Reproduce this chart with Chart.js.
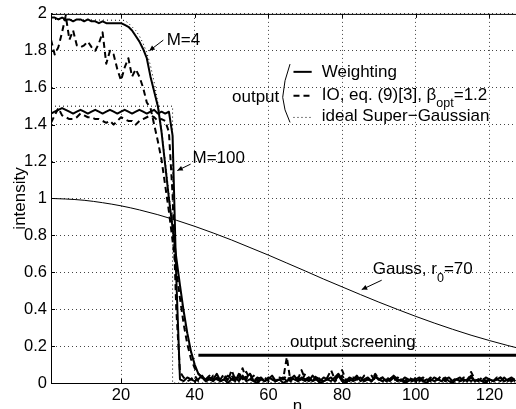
<!DOCTYPE html>
<html>
<head>
<meta charset="utf-8">
<script src="https://cdn.jsdelivr.net/npm/chart.js@4.4.0/dist/chart.umd.min.js"></script>
<style>
  html, body { margin: 0; padding: 0; background: #fff; overflow: hidden; }
  #wrap { width: 516px; height: 409px; position: relative; }
</style>
</head>
<body>
<div id="wrap"><canvas id="chart"></canvas></div>
<script>
// axis ticks
const xTicks = [20, 40, 60, 80, 100, 120];
const yTicks = [0, 0.2, 0.4, 0.6, 0.8, 1, 1.2, 1.4, 1.6, 1.8, 2];
const yTickLabels = ['0', '0.2', '0.4', '0.6', '0.8', '1', '1.2', '1.4', '1.6', '1.8', '2'];

// sample index n = 1..127
const n = Array.from({ length: 127 }, (_, i) => i + 1);

// M=4, weighting (solid)
const weight4 = [
  1.98, 1.98, 1.97, 1.98, 1.97, 1.97, 1.96, 1.97, 1.97, 1.96,
  1.97, 1.96, 1.96, 1.95, 1.96, 1.95, 1.95, 1.95, 1.95, 1.95,
  1.94, 1.93, 1.91, 1.88, 1.85, 1.81, 1.76, 1.66, 1.58, 1.50,
  1.36, 1.18, 1.00, 0.84, 0.68, 0.53, 0.39, 0.27, 0.17, 0.10,
  0.05, 0.03, 0.01, 0.02, 0.01, 0.03, 0.01, 0.02, 0.00, 0.02,
  0.03, 0.01, 0.04, 0.01, 0.02, 0.01, 0.00, 0.02, 0.01, 0.03,
  0.02, 0.01, 0.02, 0.00, 0.01, 0.03, 0.02, 0.01, 0.02, 0.01,
  0.03, 0.01, 0.02, 0.00, 0.01, 0.02, 0.03, 0.01, 0.04, 0.01,
  0.00, 0.02, 0.01, 0.02, 0.03, 0.01, 0.02, 0.01, 0.03, 0.02,
  0.01, 0.02, 0.01, 0.03, 0.01, 0.02, 0.00, 0.01, 0.02, 0.01,
  0.02, 0.01, 0.00, 0.02, 0.01, 0.02, 0.01, 0.03, 0.01, 0.00,
  0.02, 0.01, 0.02, 0.01, 0.03, 0.01, 0.02, 0.01, 0.00, 0.02,
  0.01, 0.02, 0.01, 0.03, 0.01, 0.02, 0.01
];

// M=4, IO eq.(9)[3] (dashed)
const io4 = [
  1.86, 1.78, 1.82, 1.90, 1.99, 1.86, 1.91, 1.83, 1.82, 1.83,
  1.85, 1.82, 1.80, 1.84, 1.90, 1.73, 1.80, 1.78, 1.70, 1.64,
  1.71, 1.76, 1.66, 1.70, 1.66, 1.60, 1.52, 1.49, 1.40, 1.31,
  1.21, 1.07, 0.93, 0.77, 0.61, 0.46, 0.32, 0.21, 0.13, 0.08,
  0.05, 0.03, 0.02, 0.04, 0.01, 0.03, 0.02, 0.05, 0.01, 0.07,
  0.02, 0.03, 0.08, 0.02, 0.05, 0.01, 0.03, 0.02, 0.01, 0.03,
  0.02, 0.01, 0.03, 0.02, 0.14, 0.01, 0.03, 0.02, 0.07, 0.02,
  0.03, 0.01, 0.04, 0.02, 0.01, 0.03, 0.07, 0.02, 0.04, 0.07,
  0.02, 0.01, 0.03, 0.02, 0.01, 0.04, 0.02, 0.01, 0.05, 0.02,
  0.01, 0.03, 0.02, 0.04, 0.01, 0.02, 0.01, 0.03, 0.02, 0.01,
  0.02, 0.03, 0.01, 0.02, 0.01, 0.02, 0.04, 0.01, 0.02, 0.01,
  0.03, 0.01, 0.02, 0.01, 0.06, 0.02, 0.01, 0.03, 0.01, 0.02,
  0.01, 0.02, 0.03, 0.01, 0.02, 0.01, 0.02
];

// M=100, weighting (solid)
const weight100 = [
  1.46, 1.47, 1.48, 1.49, 1.48, 1.47, 1.46, 1.47, 1.48, 1.47,
  1.46, 1.47, 1.48, 1.47, 1.46, 1.47, 1.48, 1.47, 1.46, 1.47,
  1.48, 1.47, 1.46, 1.47, 1.48, 1.47, 1.46, 1.47, 1.48, 1.46,
  1.47, 1.46, 1.47, 1.34, 0.57, 0.02, 0.01, 0.03, 0.02, 0.01,
  0.02, 0.04, 0.01, 0.03, 0.02, 0.05, 0.01, 0.02, 0.04, 0.02,
  0.01, 0.05, 0.02, 0.03, 0.05, 0.01, 0.02, 0.03, 0.01, 0.02,
  0.04, 0.01, 0.02, 0.03, 0.01, 0.02, 0.04, 0.01, 0.03, 0.02,
  0.01, 0.04, 0.02, 0.01, 0.03, 0.02, 0.01, 0.03, 0.05, 0.02,
  0.01, 0.03, 0.02, 0.04, 0.01, 0.02, 0.03, 0.01, 0.04, 0.02,
  0.03, 0.01, 0.02, 0.04, 0.02, 0.01, 0.03, 0.02, 0.01, 0.02,
  0.03, 0.01, 0.02, 0.01, 0.03, 0.02, 0.01, 0.02, 0.03, 0.01,
  0.02, 0.03, 0.01, 0.02, 0.04, 0.01, 0.02, 0.01, 0.03, 0.02,
  0.01, 0.02, 0.03, 0.01, 0.02, 0.03, 0.01
];

// M=100, IO eq.(9)[3] (dashed)
const io100 = [
  1.41, 1.45, 1.49, 1.45, 1.44, 1.43, 1.43, 1.44, 1.46, 1.45,
  1.44, 1.44, 1.43, 1.43, 1.42, 1.41, 1.42, 1.40, 1.42, 1.44,
  1.43, 1.42, 1.42, 1.40, 1.42, 1.43, 1.44, 1.45, 1.44, 1.42,
  1.43, 1.42, 1.36, 1.02, 0.40, 0.06, 0.03, 0.01, 0.02, 0.04,
  0.01, 0.03, 0.02, 0.01, 0.04, 0.02, 0.01, 0.03, 0.02, 0.04,
  0.01, 0.02, 0.03, 0.06, 0.02, 0.04, 0.01, 0.02, 0.03, 0.01,
  0.02, 0.01, 0.03, 0.02, 0.04, 0.01, 0.02, 0.03, 0.01, 0.05,
  0.02, 0.01, 0.03, 0.02, 0.01, 0.02, 0.03, 0.01, 0.02, 0.04,
  0.01, 0.02, 0.01, 0.03, 0.02, 0.01, 0.02, 0.04, 0.01, 0.02,
  0.03, 0.01, 0.02, 0.01, 0.03, 0.02, 0.01, 0.02, 0.01, 0.03,
  0.01, 0.02, 0.01, 0.03, 0.01, 0.02, 0.03, 0.01, 0.02, 0.01,
  0.02, 0.01, 0.03, 0.02, 0.01, 0.02, 0.01, 0.03, 0.01, 0.02,
  0.01, 0.03, 0.02, 0.01, 0.02, 0.01, 0.03
];

// ideal Super-Gaussian (dotted)
const ideal4N = [1, 21, 22, 23, 24, 25, 26, 27, 28, 29, 30, 31, 32, 33, 34, 35, 36, 37, 38, 39, 40, 41, 42, 43, 44, 127];
const ideal4 = [1.97, 1.965, 1.95, 1.93, 1.91, 1.88, 1.84, 1.79, 1.72, 1.63, 1.52, 1.38, 1.21, 1.03, 0.85, 0.67, 0.51, 0.37, 0.25, 0.16, 0.09, 0.05, 0.02, 0.01, 0, 0];
const ideal100N = [1, 34, 34, 127];
const ideal100 = [1.5, 1.5, 0, 0];

// Gauss, r0=70 (thin)
const gaussN = [1, 5, 10, 15, 20, 25, 30, 35, 40, 45, 50, 55, 60, 65, 70, 75, 80, 85, 90, 95, 100, 105, 110, 115, 120, 125, 128];
const gauss = [1.00, 0.997, 0.99, 0.977, 0.96, 0.938, 0.912, 0.882, 0.849, 0.813, 0.775, 0.734, 0.693, 0.650, 0.607, 0.563, 0.521, 0.479, 0.438, 0.399, 0.361, 0.325, 0.291, 0.259, 0.230, 0.203, 0.188];

// output screening level
const screenN = [41, 128];
const screen = [0.15, 0.15];

function pts(xs, ys) {
  return ys.map((v, i) => ({ x: xs[i], y: v }));
}

const FONT = '"Liberation Sans", Arial, Helvetica, sans-serif';
Chart.defaults.font.family = FONT;
Chart.defaults.color = '#000';

// annotations, in data units
const notes = {
  m4: { text: 'M=4', n: 32.4, y: 1.831, from: [31.48, 1.858], to: [27.68, 1.80] },
  m100: { text: 'M=100', n: 39.4, y: 1.19, from: [38.9, 1.186], to: [35.28, 1.151] },
  output: { n: 62.95, y: 1.524 },
  bracket: [[65.87, 1.728], [63.88, 1.548], [65.87, 1.412]],
  legendX: [66.81, 71.75],
  legendTextN: 74.47,
  legendRows: [
    { lineY: 1.686, textY: 1.659, dash: [], width: 2 },
    { lineY: 1.557, textY: 1.534, dash: [6, 4], width: 2 },
    { lineY: 1.439, textY: 1.418, dash: [1, 3], width: 1 }
  ],
  gauss: { n: 88.31, y: 0.589, from: [90.75, 0.557], to: [85.33, 0.506] },
  screening: { text: 'output screening', n: 65.87, y: 0.193 },
  xTitleN: 67.9
};

function arrow(ctx, x1, y1, x2, y2) {
  ctx.beginPath();
  ctx.moveTo(x1, y1);
  ctx.lineTo(x2, y2);
  ctx.stroke();
  const a = Math.atan2(y2 - y1, x2 - x1), h = 6;
  ctx.beginPath();
  ctx.moveTo(x2, y2);
  ctx.lineTo(x2 - h * Math.cos(a - 0.45), y2 - h * Math.sin(a - 0.45));
  ctx.lineTo(x2 - h * Math.cos(a + 0.45), y2 - h * Math.sin(a + 0.45));
  ctx.closePath();
  ctx.fill();
}

// text with one subscript part: [before, sub, after]
function subText(ctx, x, y, parts) {
  ctx.font = '17px ' + FONT;
  ctx.fillText(parts[0], x, y);
  x += ctx.measureText(parts[0]).width;
  ctx.font = '12.5px ' + FONT;
  ctx.fillText(parts[1], x, y + 7.5);
  x += ctx.measureText(parts[1]).width;
  ctx.font = '17px ' + FONT;
  ctx.fillText(parts[2], x, y);
}

const decorations = {
  id: 'decorations',
  afterDraw(chart) {
    const { ctx, chartArea: a, scales: { x, y } } = chart;
    const X = v => x.getPixelForValue(v);
    const Y = v => y.getPixelForValue(v);
    ctx.save();
    ctx.strokeStyle = '#000';
    ctx.fillStyle = '#000';
    ctx.lineWidth = 1;

    // top box line
    ctx.beginPath();
    ctx.moveTo(a.left, a.top + 0.5);
    ctx.lineTo(a.right, a.top + 0.5);
    ctx.stroke();

    // inward tick marks
    ctx.beginPath();
    xTicks.forEach(v => {
      const px = Math.round(X(v)) + 0.5;
      ctx.moveTo(px, a.bottom);
      ctx.lineTo(px, a.bottom - 4);
      ctx.moveTo(px, a.top);
      ctx.lineTo(px, a.top + 4);
    });
    yTicks.forEach(v => {
      const py = Math.round(Y(v)) + 0.5;
      ctx.moveTo(a.left, py);
      ctx.lineTo(a.left + 4, py);
    });
    ctx.stroke();

    ctx.textBaseline = 'alphabetic';
    ctx.textAlign = 'left';
    ctx.font = '17px ' + FONT;

    // arrows for M=4, M=100 and Gauss
    [notes.m4, notes.m100, notes.gauss].forEach(nt => {
      arrow(ctx, X(nt.from[0]), Y(nt.from[1]), X(nt.to[0]), Y(nt.to[1]));
    });
    ctx.fillText(notes.m4.text, X(notes.m4.n), Y(notes.m4.y));
    ctx.fillText(notes.m100.text, X(notes.m100.n), Y(notes.m100.y));

    // Gauss label
    subText(ctx, X(notes.gauss.n), Y(notes.gauss.y), ['Gauss, r', '0', '=70']);

    // output screening
    ctx.font = '17px ' + FONT;
    ctx.fillText(notes.screening.text, X(notes.screening.n), Y(notes.screening.y));

    // "output" with bracket legend
    ctx.textAlign = 'right';
    ctx.fillText('output', X(notes.output.n), Y(notes.output.y));
    ctx.textAlign = 'left';
    ctx.beginPath();
    const b = notes.bracket;
    ctx.moveTo(X(b[0][0]), Y(b[0][1]));
    ctx.quadraticCurveTo(X(b[1][0]) + 1, Y((b[0][1] + b[1][1]) / 2), X(b[1][0]), Y(b[1][1]));
    ctx.quadraticCurveTo(X(b[1][0]) + 1, Y((b[1][1] + b[2][1]) / 2), X(b[2][0]), Y(b[2][1]));
    ctx.stroke();

    notes.legendRows.forEach(r => {
      ctx.save();
      ctx.lineWidth = r.width;
      ctx.setLineDash(r.dash);
      ctx.beginPath();
      ctx.moveTo(X(notes.legendX[0]), Y(r.lineY));
      ctx.lineTo(X(notes.legendX[1]), Y(r.lineY));
      ctx.stroke();
      ctx.restore();
    });
    const lx = X(notes.legendTextN);
    ctx.font = '17px ' + FONT;
    ctx.fillText('Weighting', lx, Y(notes.legendRows[0].textY));
    subText(ctx, lx, Y(notes.legendRows[1].textY), ['IO, eq. (9)[3], \u03B2', 'opt', '=1.2']);
    ctx.font = '17px ' + FONT;
    ctx.fillText('ideal Super\u2212Gaussian', lx, Y(notes.legendRows[2].textY));

    // x axis title
    ctx.textAlign = 'center';
    ctx.fillText('n', X(notes.xTitleN), a.bottom + 27.5);
    ctx.restore();
  }
};

const solid = { borderColor: '#000', borderWidth: 2, fill: false };

new Chart(document.getElementById('chart').getContext('2d'), {
  type: 'line',
  data: {
    datasets: [
      { label: 'screening', data: pts(screenN, screen), borderColor: '#000', borderWidth: 3 },
      { label: 'Weighting M=4', data: pts(n, weight4), ...solid },
      { label: 'Weighting M=100', data: pts(n, weight100), ...solid },
      { label: 'IO M=4', data: pts(n, io4), borderColor: '#000', borderWidth: 2, borderDash: [6, 4] },
      { label: 'IO M=100', data: pts(n, io100), borderColor: '#000', borderWidth: 2, borderDash: [6, 4] },
      { label: 'ideal M=4', data: pts(ideal4N, ideal4), borderColor: '#000', borderWidth: 1, borderDash: [1, 3] },
      { label: 'ideal M=100', data: pts(ideal100N, ideal100), borderColor: '#000', borderWidth: 1, borderDash: [1, 3] },
      { label: 'Gauss', data: pts(gaussN, gauss), borderColor: '#000', borderWidth: 1, cubicInterpolationMode: 'monotone' }
    ]
  },
  options: {
    responsive: true,
    maintainAspectRatio: false,
    animation: false,
    devicePixelRatio: 1,
    layout: { padding: { top: 13, right: 0, bottom: 0, left: 0 } },
    elements: { point: { radius: 0 }, line: { tension: 0, borderJoinStyle: 'round' } },
    plugins: { legend: { display: false }, tooltip: { enabled: false } },
    scales: {
      x: {
        type: 'linear',
        min: 1,
        max: 127.2,
        afterBuildTicks: s => { s.ticks = xTicks.map(v => ({ value: v })); },
        afterFit: s => { s.height = 26; },
        grid: { color: '#444', lineWidth: 1, drawTicks: false },
        border: { display: true, color: '#000', width: 1, dash: [1, 3] },
        ticks: { padding: 3, color: '#000', font: { size: 16.5 }, maxRotation: 0, autoSkip: false }
      },
      y: {
        type: 'linear',
        min: 0,
        max: 2,
        afterBuildTicks: s => { s.ticks = yTicks.map(v => ({ value: v })); },
        afterFit: s => { s.width = 51; },
        grid: { color: '#444', lineWidth: 1, drawTicks: false },
        border: { display: true, color: '#000', width: 1, dash: [1, 3] },
        ticks: {
          padding: 4, color: '#000', font: { size: 16.5 }, autoSkip: false,
          callback: (v, i) => yTickLabels[i]
        },
        title: { display: true, text: 'intensity', color: '#000', font: { size: 17 }, padding: { top: 10, bottom: 0 } }
      }
    }
  },
  plugins: [decorations]
});
</script>
</body>
</html>
